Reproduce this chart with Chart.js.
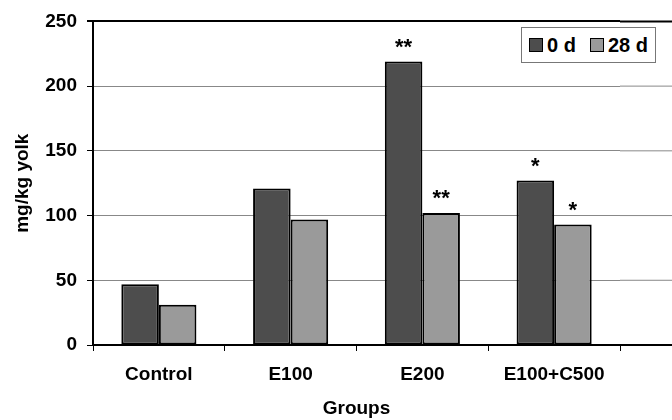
<!DOCTYPE html>
<html>
<head>
<meta charset="utf-8">
<script src="https://cdn.jsdelivr.net/npm/chart.js@4/dist/chart.umd.min.js"></script>
<style>
  html, body { margin: 0; padding: 0; background: #fff; }
  #wrap { position: relative; width: 672px; height: 420px; overflow: hidden; }
  #leyenda {
    position: absolute; left: 521px; top: 27px; width: 133px; height: 34px;
    border: 1px solid #777; background: #fff;
    display: flex; align-items: center; justify-content: center; gap: 14px;
    font: bold 20px "Liberation Sans", Arial, sans-serif; color: #000;
  }
  #leyenda span.item { display: flex; align-items: center; gap: 4px; }
  #leyenda span.caja { display: inline-block; width: 12px; height: 12px; border: 1px solid #000; }
</style>
</head>
<body>
<div id="wrap">
  <canvas id="myChart" width="672" height="420"></canvas>
  <div id="leyenda"></div>
</div>
<script>
// Datos
const grupos = ['Control', 'E100', 'E200', 'E100+C500'];
const dias0 = [47, 121, 219, 127];
const dias28 = [31, 97, 102, 93];
const marcas0 = ['', '', '**', '*'];
const marcas28 = ['', '', '**', '*'];
const ticksY = [0, 50, 100, 150, 200, 250];

const fuente = '"Liberation Sans", Arial, sans-serif';

// Extiende las líneas horizontales hasta el borde derecho
const extenderLineas = {
    id: 'extenderLineas',
    beforeDatasetsDraw(chart) {
        const ctx = chart.ctx;
        const y = chart.scales.y;
        const area = chart.chartArea;
        ctx.save();
        y.ticks.forEach(t => {
            const py = y.getPixelForValue(t.value);
            const borde = t.value === 0 || t.value === 250;
            ctx.strokeStyle = borde ? '#000' : '#888';
            ctx.lineWidth = borde ? 2 : 1;
            ctx.beginPath();
            ctx.moveTo(area.right, py);
            ctx.lineTo(chart.width, py);
            ctx.stroke();
        });
        ctx.restore();
    }
};

// Asteriscos de significancia encima de las barras
const asteriscos = {
    id: 'asteriscos',
    afterDatasetsDraw(chart) {
        const ctx = chart.ctx;
        const marcas = [marcas0, marcas28];
        ctx.save();
        ctx.font = 'bold 22px ' + fuente;
        ctx.textAlign = 'center';
        ctx.textBaseline = 'middle';
        chart.data.datasets.forEach((ds, i) => {
            chart.getDatasetMeta(i).data.forEach((barra, j) => {
                const s = marcas[i][j];
                if (!s) return;
                const w = ctx.measureText(s).width;
                ctx.fillStyle = '#fff';
                ctx.fillRect(barra.x - w / 2 - 5, barra.y - 29, w + 10, 18);
                ctx.fillStyle = '#000';
                ctx.fillText(s, barra.x, barra.y - 14);
            });
        });
        ctx.restore();
    }
};

const datasets = [
    { label: '0 d', data: dias0, backgroundColor: '#4d4d4d' },
    { label: '28 d', data: dias28, backgroundColor: '#9a9a9a' }
].map(d => Object.assign(d, {
    borderColor: '#000',
    borderWidth: 2,
    borderSkipped: false,
    categoryPercentage: 0.57,
    barPercentage: 1.0
}));

const myChart = new Chart(document.getElementById('myChart').getContext('2d'), {
    type: 'bar',
    data: { labels: grupos, datasets: datasets },
    plugins: [extenderLineas, asteriscos],
    options: {
        responsive: false,
        animation: false,
        layout: { padding: { top: 21, right: 52, left: 0, bottom: -4 } },
        scales: {
            x: {
                grid: { offset: true, drawOnChartArea: false, tickLength: 6, color: '#000', lineWidth: 1 },
                border: { color: '#000', width: 2 },
                ticks: { color: '#000', font: { family: fuente, size: 19, weight: 'bold' }, padding: 12 },
                title: { display: true, text: 'Groups', color: '#000', font: { family: fuente, size: 19, weight: 'bold' }, padding: { top: 10 } },
                afterFit(s) { s.height = 79; }
            },
            y: {
                min: 0,
                max: 250,
                afterBuildTicks(s) { s.ticks = ticksY.map(v => ({ value: v })); },
                grid: {
                    color: c => (c.tick && c.tick.value === 250) ? '#000' : '#888',
                    lineWidth: c => (c.tick && c.tick.value === 250) ? 2 : 1,
                    tickColor: '#000',
                    tickLength: 6
                },
                border: { color: '#000', width: 2 },
                ticks: { color: '#000', font: { family: fuente, size: 19, weight: 'bold' }, padding: 10 },
                title: { display: true, text: 'mg/kg yolk', color: '#000', font: { family: fuente, size: 19, weight: 'bold' }, padding: { top: 11, bottom: 0 } },
                afterFit(s) { s.width = 93; }
            }
        },
        plugins: {
            legend: { display: false },
            tooltip: { enabled: false }
        }
    }
});

// Leyenda en HTML a partir de los datasets
const leyenda = document.getElementById('leyenda');
datasets.forEach(d => {
    const item = document.createElement('span');
    item.className = 'item';
    const caja = document.createElement('span');
    caja.className = 'caja';
    caja.style.background = d.backgroundColor;
    item.appendChild(caja);
    item.appendChild(document.createTextNode(d.label));
    leyenda.appendChild(item);
});
</script>
</body>
</html>
